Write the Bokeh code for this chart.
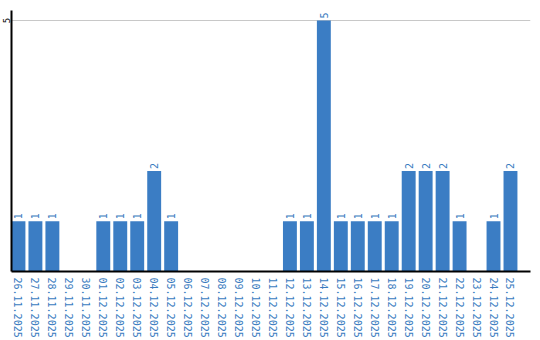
import math
from bokeh.plotting import figure
from bokeh.models import ColumnDataSource, FixedTicker, Range1d
from bokeh.core.properties import value
from bokeh.embed import file_html
from bokeh.resources import INLINE

dates = ["26.11.2025", "27.11.2025", "28.11.2025", "29.11.2025", "30.11.2025",
         "01.12.2025", "02.12.2025", "03.12.2025", "04.12.2025", "05.12.2025",
         "06.12.2025", "07.12.2025", "08.12.2025", "09.12.2025", "10.12.2025",
         "11.12.2025", "12.12.2025", "13.12.2025", "14.12.2025", "15.12.2025",
         "16.12.2025", "17.12.2025", "18.12.2025", "19.12.2025", "20.12.2025",
         "21.12.2025", "22.12.2025", "23.12.2025", "24.12.2025", "25.12.2025"]
counts = [1, 1, 1, 0, 0, 1, 1, 1, 2, 1, 0, 0, 0, 0, 0, 0, 1, 1, 5, 1, 1, 1, 1, 2, 2, 2, 1, 0, 1, 2]
y_ticks = [5]

blue = "#3b7dc4"
label_blue = "#3a7cc0"

idx = list(range(len(dates)))
src = ColumnDataSource(dict(x=idx, y=counts))
lab = ColumnDataSource(dict(x=[i for i, c in zip(idx, counts) if c > 0],
                            y=[c for c in counts if c > 0],
                            t=[str(c) for c in counts if c > 0]))

p = figure(width=540, height=340, x_range=Range1d(-0.41, len(dates) + 0.18),
           y_range=Range1d(0, 5.2), output_backend="svg", toolbar_location=None,
           min_border_left=0, min_border_right=10, min_border_top=10, min_border_bottom=0)
p.outline_line_color = None
p.background_fill_color = "white"

p.vbar(x="x", top="y", width=0.82, source=src, fill_color=blue, line_color=None)
p.text(x="x", y="y", text="t", source=lab, angle=math.pi / 2, text_align="left",
       text_baseline="middle", y_offset=-2, text_color=label_blue,
       text_font=value("DejaVu Sans Mono"), text_font_size="10px")

p.xgrid.grid_line_color = None
p.ygrid.ticker = FixedTicker(ticks=y_ticks)
p.ygrid.grid_line_color = "#c8c8c8"
p.ygrid.grid_line_width = 1

p.yaxis.ticker = FixedTicker(ticks=y_ticks)
p.yaxis.major_label_orientation = "vertical"
p.yaxis.major_tick_line_color = None
p.yaxis.minor_tick_line_color = None
p.yaxis.major_tick_out = 0
p.yaxis.major_tick_in = 0
p.yaxis.major_label_standoff = 1
p.yaxis.axis_line_width = 2
p.yaxis.axis_line_color = "black"
p.yaxis.major_label_text_font = "DejaVu Sans Mono"
p.yaxis.major_label_text_font_size = "9px"
p.yaxis.major_label_text_color = "black"

p.xaxis.ticker = FixedTicker(ticks=idx)
p.xaxis.major_label_overrides = {i: d for i, d in zip(idx, dates)}
p.xaxis.major_label_orientation = "vertical"
p.xaxis.major_tick_line_color = None
p.xaxis.minor_tick_line_color = None
p.xaxis.major_tick_out = 0
p.xaxis.major_tick_in = 0
p.xaxis.major_label_standoff = 6
p.xaxis.axis_line_width = 2
p.xaxis.axis_line_color = "black"
p.xaxis.major_label_text_font = "DejaVu Sans Mono"
p.xaxis.major_label_text_font_size = "10px"
p.xaxis.major_label_text_color = label_blue

open("out.html", "w").write(file_html(p, INLINE))
